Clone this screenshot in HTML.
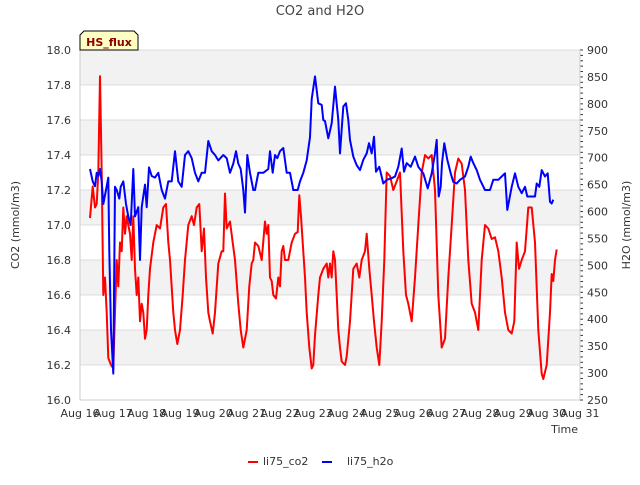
<!DOCTYPE html>
<html><head><meta charset="utf-8"><style>
body{margin:0;background:#fff;font-family:"Liberation Sans","DejaVu Sans",sans-serif}
svg text{font-family:"DejaVu Sans","Liberation Sans",sans-serif}
</style></head><body>
<svg id="chart" width="640" height="480" xmlns="http://www.w3.org/2000/svg">
<rect width="640" height="480" fill="#fff"/>
<g id="bands"></g><g id="grid"></g><g id="axes"></g><g id="series"></g>
<text x="320" y="15" text-anchor="middle" font-size="13" fill="#444">CO2 and H2O</text>
<text transform="translate(19,225) rotate(-90)" text-anchor="middle" font-size="11" fill="#333">CO2 (mmol/m3)</text>
<text transform="translate(630,225) rotate(-90)" text-anchor="middle" font-size="11" fill="#333">H2O (mmol/m3)</text>
<text x="578" y="433" text-anchor="end" font-size="11" fill="#333">Time</text>
<g>
<path d="M80,50 L80,35 L84,31 L134,31 L138,35 L138,50 Z" fill="#ffffc4" stroke="#000" stroke-width="1"/>
<text x="109" y="46" text-anchor="middle" font-size="11" font-weight="bold" fill="#8b0000">HS_flux</text>
</g>
<g>
<g><line x1="248" y1="462" x2="258" y2="462" stroke="#f00" stroke-width="2"/><text x="263" y="465" font-size="11" fill="#333">li75_co2</text></g>
<g><line x1="322" y1="462" x2="332" y2="462" stroke="#00f" stroke-width="2"/><text x="347" y="465" font-size="11" fill="#333">li75_h2o</text></g>
</g>
</svg>
<script>
const xTickLabels=["Aug 16","Aug 17","Aug 18","Aug 19","Aug 20","Aug 21","Aug 22","Aug 23","Aug 24","Aug 25","Aug 26","Aug 27","Aug 28","Aug 29","Aug 30","Aug 31"];
const leftTicks=[16.0,16.2,16.4,16.6,16.8,17.0,17.2,17.4,17.6,17.8,18.0];
const rightTicks=[250,300,350,400,450,500,550,600,650,700,750,800,850,900];
// [days since Aug 16, CO2]
const co2Series=[[0.30,17.04],[0.38,17.22],[0.45,17.1],[0.50,17.12],[0.55,17.3],[0.60,17.85],[0.65,17.3],[0.70,16.6],[0.75,16.7],[0.80,16.5],[0.85,16.24],[0.93,16.2],[1.00,16.18],[1.05,16.5],[1.10,16.8],[1.15,16.65],[1.20,16.9],[1.25,16.85],[1.30,17.1],[1.35,16.95],[1.40,17.05],[1.45,17.0],[1.50,16.95],[1.55,16.8],[1.60,17.05],[1.65,16.75],[1.70,16.6],[1.75,16.7],[1.80,16.45],[1.85,16.55],[1.90,16.5],[1.95,16.35],[2.00,16.4],[2.05,16.6],[2.10,16.75],[2.20,16.9],[2.30,17.0],[2.40,16.98],[2.50,17.1],[2.58,17.12],[2.65,16.9],[2.70,16.8],[2.80,16.5],[2.85,16.4],[2.92,16.32],[3.00,16.4],[3.08,16.6],[3.15,16.8],[3.25,17.0],[3.35,17.05],[3.42,17.0],[3.50,17.1],[3.58,17.12],[3.65,16.85],[3.72,16.98],[3.78,16.7],[3.85,16.5],[3.90,16.45],[3.98,16.38],[4.05,16.5],[4.15,16.78],[4.25,16.85],[4.30,16.85],[4.35,17.18],[4.40,16.98],[4.50,17.02],[4.58,16.9],[4.65,16.8],[4.75,16.55],[4.82,16.4],[4.90,16.3],[5.00,16.4],[5.08,16.65],[5.15,16.78],[5.20,16.8],[5.25,16.9],[5.35,16.88],[5.45,16.8],[5.55,17.02],[5.60,16.95],[5.65,17.0],[5.70,16.7],[5.75,16.68],[5.80,16.6],[5.88,16.58],[5.95,16.7],[6.00,16.65],[6.05,16.85],[6.10,16.88],[6.15,16.8],[6.25,16.8],[6.35,16.9],[6.45,16.95],[6.53,16.96],[6.58,17.17],[6.63,17.05],[6.68,16.9],[6.75,16.7],[6.80,16.5],[6.88,16.3],[6.95,16.18],[7.00,16.2],[7.05,16.37],[7.15,16.6],[7.20,16.7],[7.30,16.75],[7.40,16.78],[7.45,16.7],[7.50,16.78],[7.55,16.7],[7.60,16.85],[7.65,16.8],[7.70,16.6],[7.75,16.4],[7.80,16.3],[7.85,16.22],[7.95,16.2],[8.00,16.25],[8.10,16.45],[8.20,16.75],[8.30,16.78],[8.38,16.7],[8.45,16.8],[8.55,16.85],[8.60,16.95],[8.68,16.75],[8.75,16.6],[8.82,16.45],[8.90,16.3],[8.98,16.2],[9.05,16.45],[9.13,16.8],[9.20,17.3],[9.30,17.28],[9.40,17.2],[9.50,17.25],[9.60,17.3],[9.70,16.85],[9.78,16.6],[9.85,16.55],[9.95,16.45],[10.05,16.7],[10.15,17.0],[10.25,17.3],[10.35,17.4],[10.45,17.38],[10.55,17.4],[10.65,17.2],[10.75,16.6],[10.85,16.3],[10.95,16.35],[11.05,16.7],[11.15,17.0],[11.25,17.3],[11.35,17.38],[11.45,17.35],[11.55,17.2],[11.65,16.8],[11.75,16.55],[11.85,16.5],[11.95,16.4],[12.05,16.8],[12.15,17.0],[12.25,16.98],[12.35,16.92],[12.45,16.93],[12.55,16.85],[12.65,16.7],[12.75,16.5],[12.85,16.4],[12.95,16.38],[13.03,16.45],[13.10,16.9],[13.17,16.75],[13.25,16.8],[13.35,16.85],[13.45,17.1],[13.55,17.1],[13.65,16.9],[13.75,16.4],[13.85,16.15],[13.90,16.12],[14.00,16.2],[14.10,16.5],[14.15,16.72],[14.20,16.68],[14.25,16.8],[14.30,16.86]];
// [days since Aug 16, H2O]
const h2oSeries=[[0.30,679],[0.38,656],[0.45,647],[0.50,672],[0.55,666],[0.60,679],[0.65,656],[0.70,614],[0.78,640],[0.85,663],[0.88,526],[0.93,380],[1.00,299],[1.05,646],[1.10,640],[1.18,624],[1.22,646],[1.30,656],[1.38,614],[1.45,591],[1.52,575],[1.60,679],[1.65,591],[1.75,608],[1.80,510],[1.85,608],[1.95,650],[2.00,608],[2.07,682],[2.15,666],[2.25,663],[2.35,672],[2.45,640],[2.55,624],[2.65,656],[2.75,656],[2.85,712],[2.95,656],[3.05,646],[3.15,705],[3.25,712],[3.35,699],[3.45,672],[3.55,656],[3.65,672],[3.75,672],[3.85,731],[3.95,712],[4.05,705],[4.15,695],[4.30,705],[4.40,699],[4.50,672],[4.60,689],[4.68,712],[4.75,689],[4.82,679],[4.90,640],[4.95,598],[5.02,705],[5.10,672],[5.20,640],[5.25,640],[5.35,672],[5.50,672],[5.65,679],[5.70,712],[5.78,672],[5.85,705],[5.92,699],[6.00,712],[6.10,718],[6.20,672],[6.30,672],[6.40,640],[6.53,640],[6.60,656],[6.70,672],[6.80,695],[6.90,738],[6.95,809],[7.05,851],[7.15,801],[7.25,798],[7.30,770],[7.35,768],[7.45,736],[7.55,764],[7.65,832],[7.75,770],[7.80,708],[7.90,795],[7.98,801],[8.05,770],[8.10,733],[8.20,702],[8.30,686],[8.40,677],[8.50,696],[8.60,708],[8.67,727],[8.75,708],[8.82,739],[8.88,674],[8.98,683],[9.10,652],[9.20,659],[9.35,662],[9.45,665],[9.55,683],[9.65,717],[9.72,674],[9.80,690],[9.92,683],[10.05,702],[10.15,683],[10.30,671],[10.43,643],[10.55,671],[10.65,708],[10.70,733],[10.76,628],[10.82,646],[10.86,690],[10.93,727],[11.02,696],[11.12,671],[11.20,655],[11.30,652],[11.40,659],[11.55,665],[11.65,683],[11.72,702],[11.80,690],[11.90,677],[12.00,659],[12.15,640],[12.30,640],[12.40,659],[12.55,659],[12.65,665],[12.75,671],[12.82,603],[12.95,646],[13.05,671],[13.15,646],[13.25,634],[13.35,646],[13.42,628],[13.55,628],[13.65,628],[13.70,652],[13.78,646],[13.85,677],[13.95,665],[14.03,671],[14.10,618],[14.15,615],[14.20,622]];

const X0=80,X1=580,Y0=50,Y1=400;
const xScale=d=>X0+d*(X1-X0)/15;
const yL=v=>Y1-(v-16)*(Y1-Y0)/2;
const yR=v=>Y1-(v-250)*(Y1-Y0)/650;
const NS="http://www.w3.org/2000/svg";
function mk(tag,attrs,parent){const e=document.createElementNS(NS,tag);for(const k in attrs)e.setAttribute(k,attrs[k]);parent.appendChild(e);return e;}
const bands=document.getElementById('bands'),grid=document.getElementById('grid'),axes=document.getElementById('axes'),series=document.getElementById('series');
mk('rect',{x:X0,y:Y0,width:X1-X0,height:Y1-Y0,fill:'#fff'},bands);
for(let i=0;i<leftTicks.length-1;i++){
  if(i%2===1){const r=mk('rect',{x:X0,y:yL(leftTicks[i+1]),width:X1-X0,height:yL(leftTicks[i])-yL(leftTicks[i+1]),fill:'#f2f2f2'},bands);
  
  }
}
leftTicks.forEach(v=>{
  const y=yL(v);
  const g=mk('line',{x1:X0,x2:X1,y1:y,y2:y,stroke:'#dcdcdc','stroke-width':1},grid);
  
  
  const t=mk('text',{x:71,y:y+4,'text-anchor':'end','font-size':11,fill:'#333'},axes);
  t.textContent=v.toFixed(1);
  
  
});
rightTicks.forEach(v=>{
  const y=yR(v);
  const t=mk('text',{x:587,y:y+4,'font-size':11,fill:'#333'},axes);
  t.textContent=v;
  
  
});
for(let v=250;v<=900;v+=10){const y=yR(v);mk('line',{x1:X1,x2:X1+3,y1:y,y2:y,stroke:'#333','stroke-width':1},axes);}
mk('line',{x1:X0,x2:X0,y1:Y0,y2:Y1,stroke:'#ccc'},axes);
mk('line',{x1:X1,x2:X1,y1:Y0,y2:Y1,stroke:'#ccc'},axes);
mk('line',{x1:X0,x2:X1,y1:Y1,y2:Y1,stroke:'#ccc'},axes);
xTickLabels.forEach((s,i)=>{
  const t=mk('text',{x:xScale(i),y:417,'text-anchor':'middle','font-size':11,fill:'#333'},axes);
  t.textContent=s;
  
  
});
const pc=mk('polyline',{points:co2Series.map(p=>xScale(p[0]).toFixed(1)+','+yL(p[1]).toFixed(1)).join(' '),fill:'none',stroke:'#f00','stroke-width':2,'stroke-linejoin':'round'},series);


const ph=mk('polyline',{points:h2oSeries.map(p=>xScale(p[0]).toFixed(1)+','+yR(p[1]).toFixed(1)).join(' '),fill:'none',stroke:'#00f','stroke-width':2,'stroke-linejoin':'round'},series);


</script>
</body></html>
